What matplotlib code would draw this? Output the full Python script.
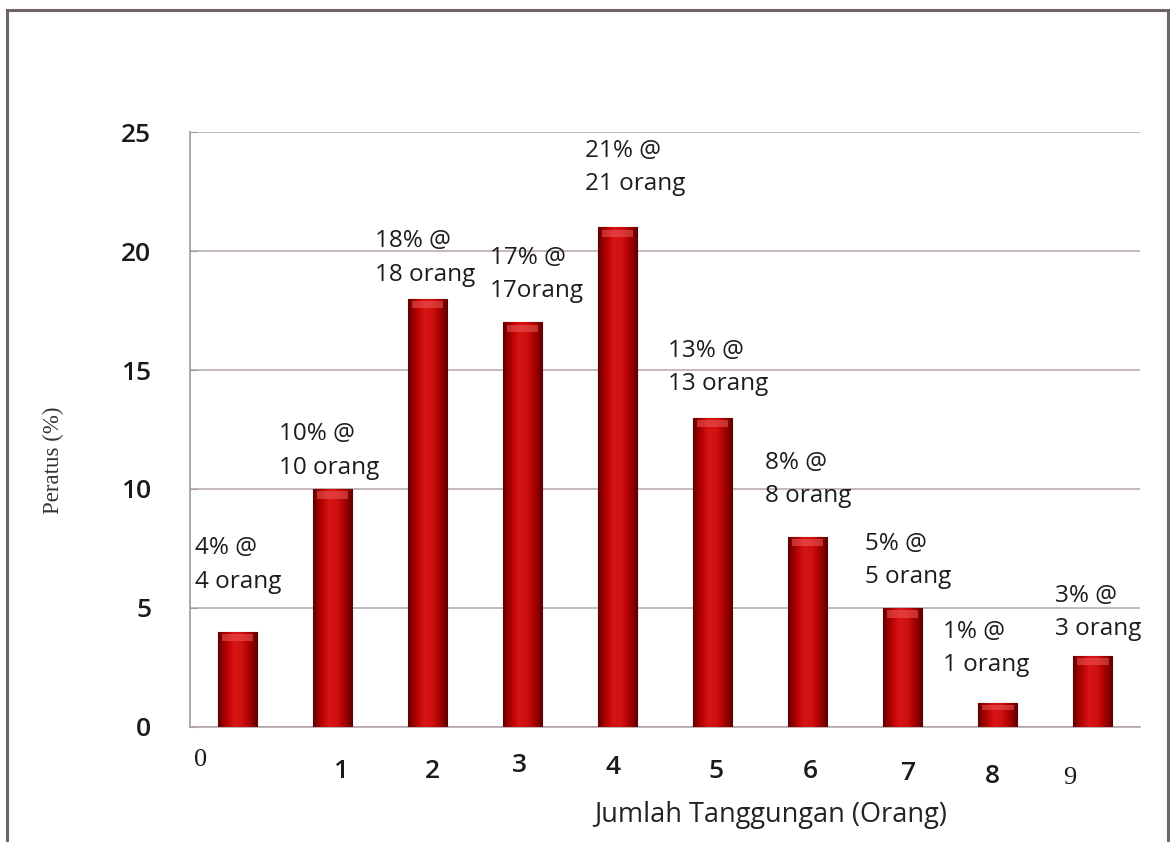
import numpy as np
import matplotlib
matplotlib.use("Agg")
import matplotlib.pyplot as plt
from matplotlib.patches import Rectangle
from matplotlib.colors import LinearSegmentedColormap
from matplotlib.transforms import offset_copy, blended_transform_factory

# data
kategori = [0, 1, 2, 3, 4, 5, 6, 7, 8, 9]
peratus = [4, 10, 18, 17, 21, 13, 8, 5, 1, 3]
label_bar = ["4% @\n4 orang", "10% @\n10 orang", "18% @\n18 orang", "17% @\n17orang",
             "21% @\n21 orang", "13% @\n13 orang", "8% @\n8 orang", "5% @\n5 orang",
             "1% @\n1 orang", "3% @\n3 orang"]
# label positions (left x, middle y)
label_x = [-0.45, 0.44, 1.45, 2.66, 3.66, 4.53, 5.55, 6.60, 7.43, 8.60]
label_y = [6.8, 11.6, 19.7, 19.0, 23.5, 15.1, 10.4, 7.0, 3.3, 4.8]
# tick label positions are a bit uneven in the original
tick_x = [-0.39, 1.08, 2.05, 2.97, 3.95, 5.04, 6.03, 7.06, 7.95, 8.76]
tick_dy = [-33, -45, -45, -39, -41, -45, -45, -47, -50, -51]
tick_serif = [True, False, False, False, False, False, False, False, False, True]

sans = "Open Sans"
serif = "Liberation Serif"

fig = plt.figure(figsize=(11.7, 8.42), dpi=100)
ax = fig.add_axes([0.1624, 0.1366, 0.812, 0.7066])

bars = ax.bar(kategori, peratus, width=0.42, color="#c00000", edgecolor="#5a0000", linewidth=0.8, zorder=3)

# cylinder like shading
cmap = LinearSegmentedColormap.from_list("merah", ["#640000", "#b40000", "#d81414", "#d01010", "#a80000", "#5c0000"])
grad = np.linspace(0, 1, 64).reshape(1, -1)
for b in bars:
    x0, w, h = b.get_x(), b.get_width(), b.get_height()
    im = ax.imshow(grad, cmap=cmap, aspect="auto", extent=(x0, x0 + w, 0, h), zorder=4)
    im.set_clip_path(b)
    # lighter top cap
    cap = min(0.4, h * 0.3)
    ax.add_patch(Rectangle((x0 + w * 0.1, h - cap), w * 0.8, cap * 0.75, color="#f06060", alpha=0.5, lw=0, zorder=5))

for lx, ly, t in zip(label_x, label_y, label_bar):
    ax.text(lx, ly, t, ha="left", va="center", fontsize=17.5, family=sans, color="#1c1c1c", linespacing=1.52, zorder=6)

ax.set_xlim(-0.5, 9.5)
ax.set_ylim(0, 25)
ax.set_yticks([0, 5, 10, 15, 20, 25])
ax.set_yticklabels(["0", "5", "10", "15", "20", "25"], family=sans, fontsize=19, fontweight="semibold", color="#1a1a1a")
ax.tick_params(axis="y", direction="in", length=5, pad=28, color="#999999")
ax.set_xticks([])
ax.yaxis.grid(True, color="#b5a5ab", linewidth=1.1)
ax.set_axisbelow(True)
for s in ["top", "right"]:
    ax.spines[s].set_visible(False)
ax.spines["left"].set_color("#999999")
ax.spines["bottom"].set_color("#b5a5ab")
ax.spines["left"].set_linewidth(1.2)
ax.spines["bottom"].set_linewidth(1.2)

trans = blended_transform_factory(ax.transData, ax.transAxes)
for k, tx, dy, sf in zip(kategori, tick_x, tick_dy, tick_serif):
    tr = offset_copy(trans, fig=fig, x=0, y=dy, units="dots")
    ax.text(tx, 0, str(k), transform=tr, ha="center", va="center",
            family=serif if sf else sans, fontsize=19,
            fontweight="normal" if sf else "semibold", color="#1a1a1a")

fig.text(771 / 1170, 1 - 815 / 842, "Jumlah Tanggungan (Orang)", ha="center", va="center", family=sans, fontsize=19.5, color="#222222")
fig.text(53 / 1170, 1 - 460 / 842, "Peratus (%)", rotation=90, ha="center", va="center", family=serif, fontsize=16.5, color="#333333")

# frame of the scanned figure
fig.patches.append(Rectangle((0.006, -0.01), 0.992, 0.998, transform=fig.transFigure, fill=False, edgecolor="#6e6468", linewidth=2.2))

fig.savefig("out.png", dpi=100)
